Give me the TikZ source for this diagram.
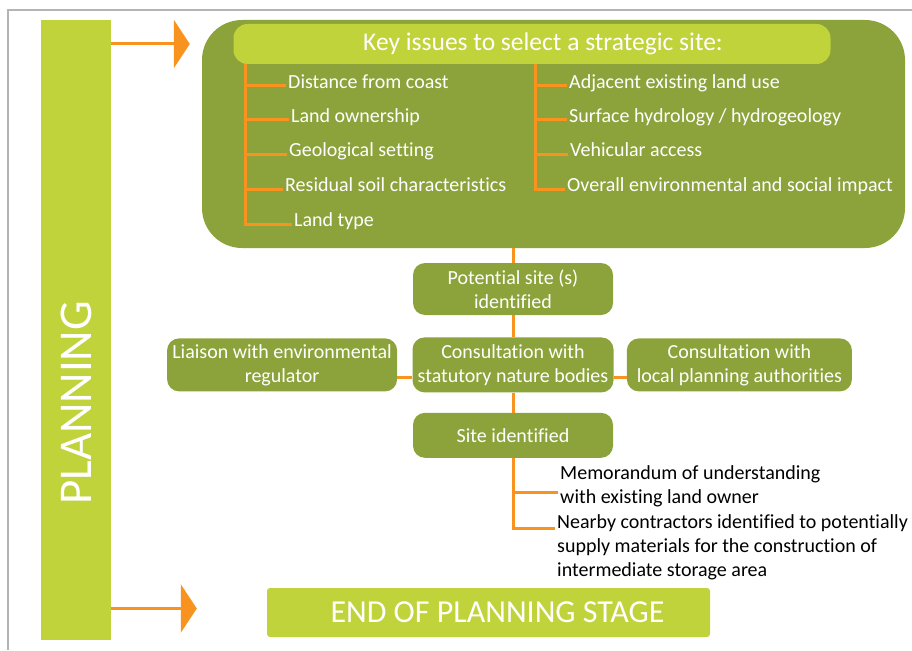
\documentclass[tikz,border=0pt]{standalone}
\usepackage{fontspec}
\setmainfont{Carlito}[Ligatures=NoCommon]
\usepackage{tikz}
\usetikzlibrary{arrows.meta,positioning}
\definecolor{planolive}{HTML}{8CA33C}
\definecolor{planlime}{HTML}{C0D33B}
\definecolor{planorange}{HTML}{F7931E}
\definecolor{planframe}{HTML}{B4B4B4}

\begin{document}
\begin{tikzpicture}[x=1pt,y=-1pt,
    every node/.style={font=\fontsize{20}{24}\selectfont},
    darkbox/.style={fill=planolive, rounded corners=12pt, text=white,
      align=center, inner sep=2pt},
    issue/.style={text=white, anchor=west, inner sep=2pt,
      text height=1.5ex, text depth=.25ex},
    note/.style={anchor=west, align=left, inner sep=2pt},
    link/.style={draw=planorange, line width=3pt},
    bigarrow/.style={link, -{Triangle[length=16pt,width=48pt]}}]
        \useasboundingbox (0,0) rectangle (912,650);
        \draw[planframe, line width=1.5pt] (8,650) -- (8,10) -- (912,10);
        % planning bar
        \node[fill=planlime, minimum width=70pt, minimum height=620pt,
          inner sep=0pt] (bar) at (75.5,330) {};
        \node[rotate=90, text=white, font=\fontsize{47}{50}\selectfont]
          (plan) at (76,403) {PLANNING};
        % key issues
        \node[fill=planolive, rounded corners=40pt, minimum width=703pt,
          minimum height=228pt] (keys) at (553.5,134) {};
        \node[fill=planlime, rounded corners=14pt, minimum width=597pt,
          minimum height=40pt, inner sep=0pt, text=white,
          font=\fontsize{25.5}{28}\selectfont]
          (head) at (532,44) {\hspace*{22pt}Key issues to select a strategic site:};
        \draw[bigarrow] (bar.east |- head.west) -- ([xshift=-12pt]keys.west |- head.west);
        \coordinate (ltop) at (245,64);
        \coordinate (rtop) at (535,64);
        \foreach \txt/\xx/\yy [count=\i] in {Distance from coast/286/86,
            Land ownership/289/120, Geological setting/287/154,
            Residual soil characteristics/283/189, Land type/292/224}{
          \node[issue] (l\i) at (\xx,\yy) {\txt};
          \draw[link] (ltop) |- (l\i.west);
        }
        \foreach \txt/\xx/\yy [count=\i] in {Adjacent existing land use/567/86,
            {Surface hydrology / hydrogeology}/567/120, Vehicular access/568/154,
            Overall environmental and social impact/565/189}{
          \node[issue] (r\i) at (\xx,\yy) {\txt};
          \draw[link] (rtop) |- (r\i.west);
        }
        % flow
        \node[darkbox, minimum width=200pt, minimum height=52pt]
          (pot) at (513,289) {Potential site (s)\\identified};
        \node[darkbox, minimum width=201pt, minimum height=55pt, below=22pt of pot]
          (stat) {Consultation with\\statutory nature bodies};
        \node[darkbox, minimum width=230pt, minimum height=53pt, left=15pt of stat]
          (liai) {Liaison with environmental\\regulator};
        \node[darkbox, minimum width=225pt, minimum height=53pt, right=13pt of stat]
          (local) {Consultation with\\local planning authorities};
        \node[darkbox, minimum width=200pt, minimum height=45pt, below=20pt of stat]
          (site) {Site identified};
        \draw[link] (keys.south -| pot.north) -- (pot.north);
        \draw[link] (pot.south) -- (stat.north);
        \draw[link] (stat.south) -- (site.north);
        \draw[link] ([yshift=-13pt]liai.east) -- ([yshift=-13pt]stat.west);
        \draw[link] ([yshift=-13pt]stat.east) -- ([yshift=-13pt]local.west);
        % after site
        \node[note] (memo) at (558,486)
          {Memorandum of understanding\\with existing land owner};
        \node[note] (near) at (555,547)
          {Nearby contractors identified to potentially\\supply materials for the construction of\\intermediate storage area};
        \draw[link] (site.south) |- ([yshift=-6pt]memo.west);
        \draw[link] (site.south) |- ([yshift=19pt]near.west);
        % end
        \node[fill=planlime, rounded corners=3pt, minimum width=443pt,
          minimum height=49pt, text=white, font=\fontsize{32}{34}\selectfont]
          (endst) at (488.5,612.5) {\hspace*{18pt}END OF PLANNING STAGE};
        \draw[bigarrow] ([yshift=4pt]bar.east |- endst.west) -- ([xshift=-70pt,yshift=4pt]endst.west);
      \end{tikzpicture}
\end{document}
